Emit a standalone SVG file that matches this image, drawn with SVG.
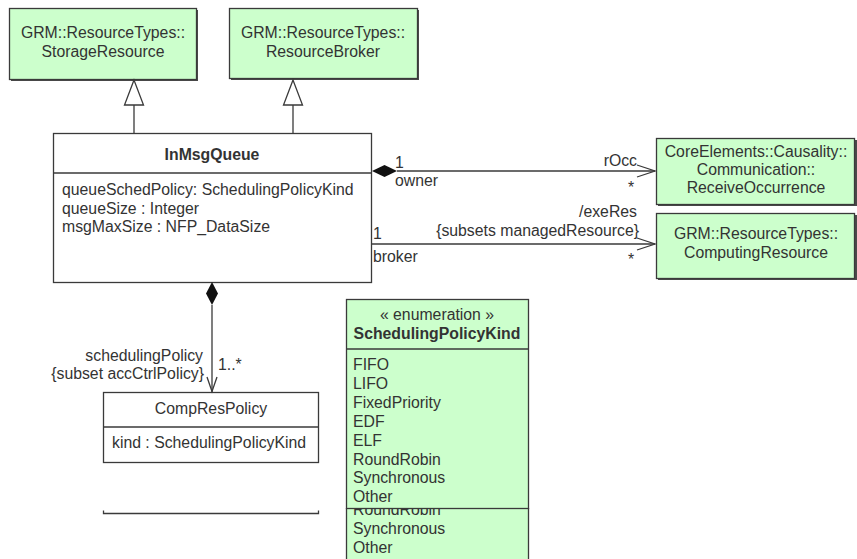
<svg xmlns="http://www.w3.org/2000/svg" width="857" height="559" viewBox="0 0 857 559">
<style>
text{font-family:"Liberation Sans",Arial,sans-serif;font-size:15.8px;fill:#333}
.b{font-weight:bold}
.c{text-anchor:middle}
.r{text-anchor:end}
.g{fill:#ccffcc;stroke:#3a3a3a;stroke-width:1.3}
.sh{fill:#4a4a4a}
.w{fill:#fff;stroke:#3a3a3a;stroke-width:1.3}
.ln{stroke:#3a3a3a;stroke-width:1.3;fill:none}
</style>
<defs>
<clipPath id="lower"><rect x="340" y="508" width="200" height="60"/></clipPath>
</defs>
<rect width="857" height="559" fill="#fff"/>
<g id="StorageResource">
<rect class="sh" x="11" y="10" width="187" height="71"/>
<rect class="g" x="9.5" y="8.5" width="187" height="71"/>
<text class="c" x="103" y="38">GRM::ResourceTypes::</text>
<text class="c" x="103" y="57">StorageResource</text>
</g>
<g id="ResourceBroker">
<rect class="sh" x="231" y="10" width="188" height="70"/>
<rect class="g" x="229.5" y="8.5" width="188" height="70"/>
<text class="c" x="323" y="38">GRM::ResourceTypes::</text>
<text class="c" x="323" y="57">ResourceBroker</text>
</g>
<g id="InMsgQueue">
<rect class="w" x="53.5" y="133.5" width="318" height="149"/>
<line class="ln" x1="53.5" y1="173" x2="371.5" y2="173"/>
<text class="c b" x="212" y="160">InMsgQueue</text>
<text x="62" y="195">queueSchedPolicy: SchedulingPolicyKind</text>
<text x="62" y="213.5">queueSize : Integer</text>
<text x="62" y="232">msgMaxSize : NFP_DataSize</text>
</g>
<g id="ReceiveOccurrence">
<rect class="sh" x="658" y="140" width="199" height="66"/>
<rect class="g" x="656.5" y="138.5" width="198" height="66"/>
<text class="c" x="756" y="157">CoreElements::Causality::</text>
<text class="c" x="756" y="175">Communication::</text>
<text class="c" x="756" y="193">ReceiveOccurrence</text>
</g>
<g id="ComputingResource">
<rect class="sh" x="658" y="215" width="199" height="65"/>
<rect class="g" x="656.5" y="213.5" width="198" height="65"/>
<text class="c" x="756" y="239">GRM::ResourceTypes::</text>
<text class="c" x="756" y="258">ComputingResource</text>
</g>
<g id="CompResPolicy">
<rect class="w" x="103.5" y="392.5" width="215" height="70"/>
<line class="ln" x1="103.5" y1="427" x2="318.5" y2="427"/>
<text class="c" x="211" y="414">CompResPolicy</text>
<text x="112" y="448">kind : SchedulingPolicyKind</text>
<path class="ln" d="M103.5 510.5 V513.5 H318.5 V510.5"/>
</g>
<g id="SchedulingPolicyKindCopy" clip-path="url(#lower)">
<rect class="g" x="346.5" y="350.5" width="182" height="215"/>
<text x="353" y="515">RoundRobin</text>
<text x="353" y="534">Synchronous</text>
<text x="353" y="553">Other</text>
</g>
<g id="SchedulingPolicyKind">
<rect class="g" x="346.5" y="299.5" width="182" height="209"/>
<line class="ln" x1="346.5" y1="349" x2="528.5" y2="349"/>
<text class="c" x="437" y="320">« enumeration »</text>
<text class="c b" x="437" y="339">SchedulingPolicyKind</text>
<text x="353" y="370">FIFO</text>
<text x="353" y="389">LIFO</text>
<text x="353" y="408">FixedPriority</text>
<text x="353" y="427">EDF</text>
<text x="353" y="446">ELF</text>
<text x="353" y="464.5">RoundRobin</text>
<text x="353" y="483">Synchronous</text>
<text x="353" y="502">Other</text>
</g>
<g id="connectors">
<line class="ln" x1="134" y1="105" x2="134" y2="133"/>
<path d="M134 80 L124.5 105 H143.5 Z" fill="#fff" stroke="#3a3a3a" stroke-width="1.3"/>
<line class="ln" x1="293" y1="105" x2="293" y2="133"/>
<path d="M293 80 L283.5 105 H302.5 Z" fill="#fff" stroke="#3a3a3a" stroke-width="1.3"/>
<line class="ln" x1="397" y1="171" x2="655" y2="171"/>
<path d="M372 171 L384.5 165 L397 171 L384.5 177 Z" fill="#111"/>
<path class="ln" d="M637 165 L655 171 L637 177"/>
<text x="395" y="168">1</text>
<text x="395" y="186">owner</text>
<text class="r" x="637" y="166">rOcc</text>
<text x="628" y="193">*</text>
<line class="ln" x1="372" y1="244" x2="655" y2="244"/>
<path class="ln" d="M637 238 L655 244 L637 250"/>
<text x="373" y="239">1</text>
<text x="373" y="262">broker</text>
<text class="r" x="637" y="217">/exeRes</text>
<text class="r" x="639" y="236">{subsets managedResource}</text>
<text x="628" y="265">*</text>
<line class="ln" x1="212" y1="305" x2="212" y2="392"/>
<path d="M212 282 L206 293.5 L212 305 L218 293.5 Z" fill="#111"/>
<path class="ln" d="M207 377 L212 391.5 L217 377"/>
<text x="218" y="370">1..*</text>
<text class="r" x="203" y="361">schedulingPolicy</text>
<text class="r" x="204" y="379">{subset accCtrlPolicy}</text>
</g>
</svg>
